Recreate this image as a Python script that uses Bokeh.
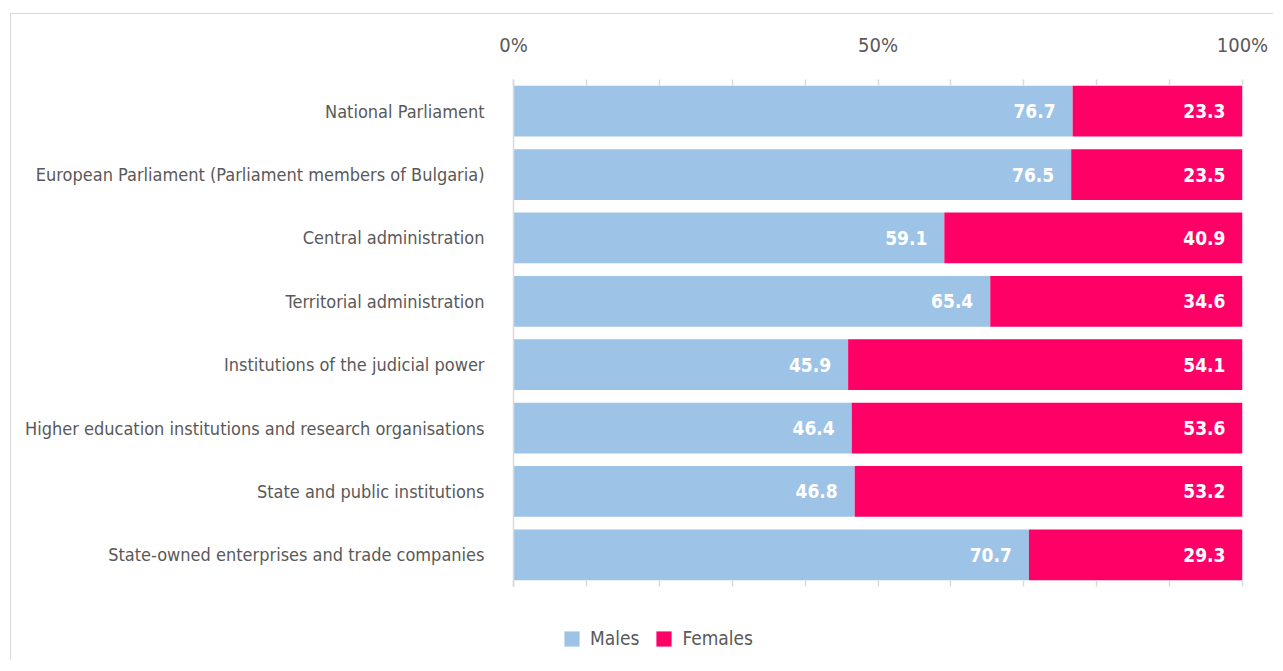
from bokeh.plotting import figure
from bokeh.layouts import column
from bokeh.models import (ColumnDataSource, FactorRange, LinearAxis, FixedTicker,
                          Legend, LegendItem)
from bokeh.core.properties import value
from bokeh.embed import file_html
from bokeh.resources import INLINE

categories = [
    "National Parliament",
    "European Parliament (Parliament members of Bulgaria)",
    "Central administration",
    "Territorial administration",
    "Institutions of the judicial power",
    "Higher education institutions and research organisations",
    "State and public institutions",
    "State-owned enterprises and trade companies",
]
males = [76.7, 76.5, 59.1, 65.4, 45.9, 46.4, 46.8, 70.7]
females = [23.3, 23.5, 40.9, 34.6, 54.1, 53.6, 53.2, 29.3]
series = ["Males", "Females"]
tick_values = [0, 10, 20, 30, 40, 50, 60, 70, 80, 90, 100]
tick_labels = {0: "0%", 50: "50%", 100: "100%"}

FONT = "DejaVu Sans Condensed"
GRAY = "#595959"
LIGHT = "#d9d9d9"
C_M = "#9dc3e6"
C_F = "#ff0066"

source = ColumnDataSource(dict(
    cat=categories,
    males=males,
    females=females,
    total=[m + f for m, f in zip(males, females)],
    lm=["%.1f" % v for v in males],
    lf=["%.1f" % v for v in females],
))

p = figure(
    width=1262, height=586,
    y_range=FactorRange(factors=list(reversed(categories))),
    x_range=(0, 100),
    x_axis_location="above",
    output_backend="svg", toolbar_location=None,
    min_border_left=502, min_border_right=31,
    min_border_top=65, min_border_bottom=14,
)
p.outline_line_color = None
p.grid.visible = False

p.hbar(y="cat", left=0, right="males", height=0.8, source=source,
       fill_color=C_M, line_color=None)
p.hbar(y="cat", left="males", right="total", height=0.8, source=source,
       fill_color=C_F, line_color=None)

for xcol, tcol in (("males", "lm"), ("total", "lf")):
    p.text(x=xcol, y="cat", text=tcol, source=source, x_offset=-17,
           text_align="right", text_baseline="middle", text_color="white",
           text_font=value(FONT), text_font_style="bold", text_font_size="19px")

# top axis
overrides = {t: tick_labels.get(t, "") for t in tick_values}
ax = p.xaxis[0]
ax.ticker = FixedTicker(ticks=tick_values)
ax.major_label_overrides = overrides
ax.axis_line_color = None
ax.major_tick_in = 6
ax.major_tick_out = 0
ax.major_tick_line_color = LIGHT
ax.major_tick_line_width = 1.5
ax.minor_tick_line_color = None
ax.major_label_text_font = FONT
ax.major_label_text_font_size = "20px"
ax.major_label_text_color = GRAY
ax.major_label_standoff = 23

# bottom axis (ticks only)
bx = LinearAxis(ticker=FixedTicker(ticks=tick_values),
                major_label_overrides={t: "" for t in tick_values})
bx.axis_line_color = None
bx.major_tick_in = 6
bx.major_tick_out = 0
bx.major_tick_line_color = LIGHT
bx.major_tick_line_width = 1.5
bx.minor_tick_line_color = None
bx.major_label_text_font_size = "1px"
bx.major_label_standoff = 0
p.add_layout(bx, "below")

# left axis
ly = p.yaxis[0]
ly.axis_line_color = LIGHT
ly.axis_line_width = 1.5
ly.major_tick_line_color = None
ly.minor_tick_line_color = None
ly.major_label_text_font = FONT
ly.major_label_text_font_size = "18px"
ly.major_label_text_color = GRAY
ly.major_label_standoff = 23

# legend strip (its frame is aligned with the chart frame by the column layout)
lf = figure(width=1262, height=60, output_backend="svg", toolbar_location=None,
            x_axis_type=None, y_axis_type=None, x_range=(0, 1), y_range=(0, 1),
            min_border=0)
lf.outline_line_color = None
lf.grid.visible = False
lr_m = lf.hbar(y=[0.5], left=[0], right=[0], height=0, fill_color=C_M, line_color=None)
lr_f = lf.hbar(y=[0.5], left=[0], right=[0], height=0, fill_color=C_F, line_color=None)
legend = Legend(
    items=[LegendItem(label=series[0], renderers=[lr_m]),
           LegendItem(label=series[1], renderers=[lr_f])],
    orientation="horizontal", location=(49, 11),
    glyph_width=19, glyph_height=19, label_standoff=9, spacing=15,
    padding=0, margin=0, border_line_color=None, background_fill_alpha=0,
    label_text_font=FONT, label_text_font_size="19px", label_text_color=GRAY,
)
lf.add_layout(legend, "center")

root = column(p, lf, spacing=0)
root.margin = (13, 0, 0, 10)
root.styles = {"border-left": "1px solid #d9d9d9", "border-top": "1px solid #d9d9d9"}

open("out.html", "w").write(file_html(root, INLINE))
